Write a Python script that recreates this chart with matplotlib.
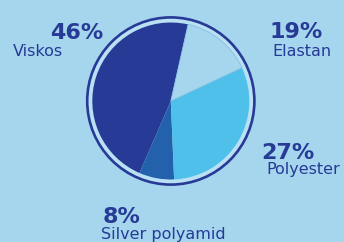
import matplotlib
matplotlib.use("Agg")
from matplotlib import pyplot as plt
from matplotlib.patches import Circle

W, H = 344, 242

# values
materials = ["Viskos", "Silver polyamid", "Polyester", "Elastan"]
labels_pct = ["46%", "8%", "27%", "19%"]
wedge_sizes = [47.0, 7.2, 31.3, 14.5]   # wedge sizes as drawn
colors = ["#263a96", "#2461ad", "#4ec0ea", "#a6d6ee"]

bg = "#a6d6ee"
dark = "#263a96"

fig = plt.figure(figsize=(W / 100, H / 100), dpi=100, facecolor=bg)
ax = fig.add_axes([0, 0, 1, 1])
ax.set_facecolor(bg)

cx, cy = 170.8, H - 101

# light gap + outer ring
ax.add_patch(Circle((cx, cy), 83, facecolor="#b9e0f3", edgecolor="none", zorder=0))
ax.add_patch(Circle((cx, cy), 83.6, fill=False, edgecolor=dark, linewidth=1.9, zorder=3))

wedges, _ = ax.pie(wedge_sizes, colors=colors, startangle=77.3, counterclock=True,
                   center=(cx, cy), radius=78.5,
                   wedgeprops=dict(linewidth=0, antialiased=True))
wedges[3].set_edgecolor("#86bfe2")
wedges[3].set_linewidth(0.6)

# labels: (pct x, pct baseline, name x, name baseline) in pixels from top-left
pos = {
    "Viskos": (50, 39, 13, 56),
    "Silver polyamid": (103, 223, 101, 239),
    "Polyester": (261, 159, 266, 174),
    "Elastan": (269, 38, 272, 56),
}
for name, pct in zip(materials, labels_pct):
    px, py, nx, ny = pos[name]
    ax.text(px, H - py, pct, color=dark, fontsize=16, fontweight="bold",
            family="DejaVu Sans", ha="left", va="baseline")
    ax.text(nx, H - ny, name, color=dark, fontsize=11.5, family="DejaVu Sans",
            ha="left", va="baseline")

ax.set_xlim(0, W)
ax.set_ylim(0, H)
ax.set_aspect("equal")
ax.axis("off")
fig.savefig("out.png", dpi=100, facecolor=bg)
